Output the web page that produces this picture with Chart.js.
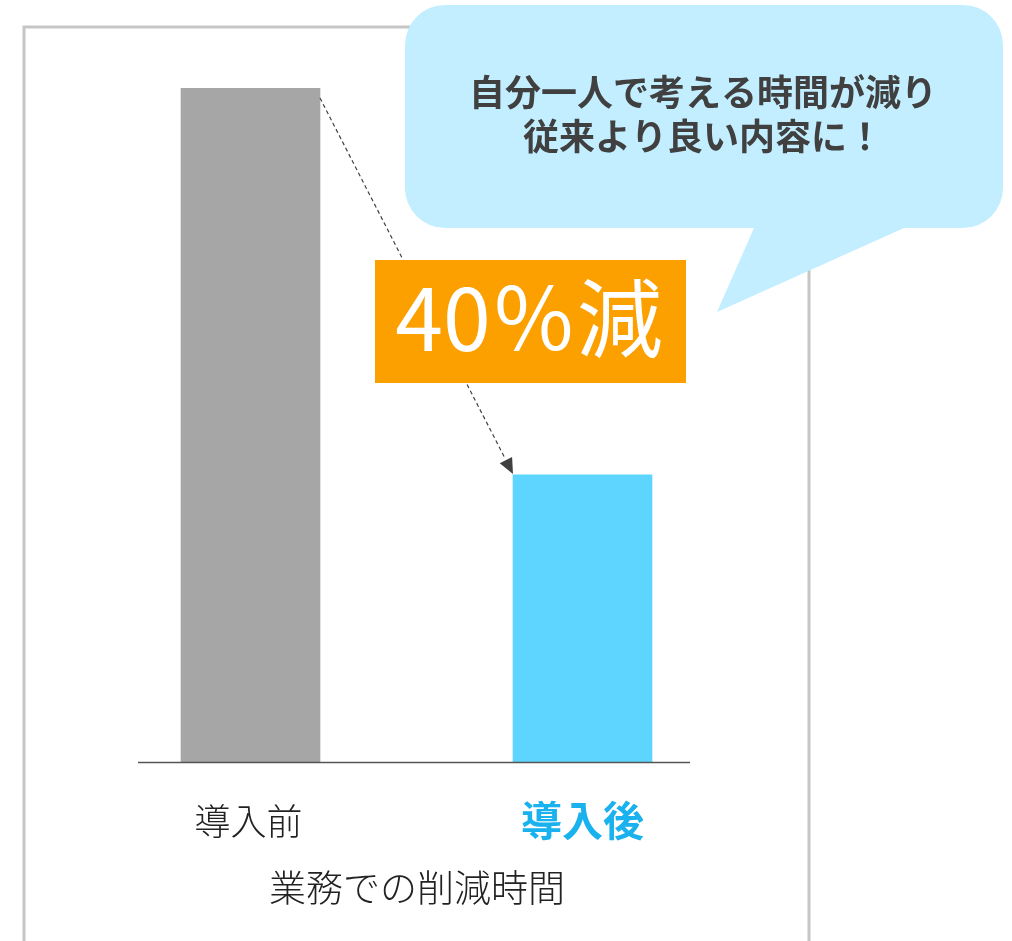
<!DOCTYPE html>
<html>
<head>
<meta charset="utf-8">
<script src="https://cdn.jsdelivr.net/npm/chart.js@4.4.0/dist/chart.umd.min.js"></script>
<style>
  html, body { margin: 0; padding: 0; background: #fff; }
  #wrap { width: 1012px; height: 941px; }
</style>
</head>
<body>
<div id="wrap"><canvas id="reduceChart" width="1012" height="941"></canvas></div>
<script>
  const categories = ['導入前', '導入後'];
  const hours = [100, 42.6]; // relative time, before = 100
  const axisTitle = '業務での削減時間';
  const badgeText = '40％減';
  const bubbleLines = ['自分一人で考える時間が減り', '従来より良い内容に！'];

  const JP = '"Noto Sans CJK JP", "Noto Sans", sans-serif';

  // frame behind the chart
  const framePlugin = {
    id: 'frame',
    beforeDraw(chart) {
      const ctx = chart.ctx;
      ctx.save();
      ctx.strokeStyle = '#c6c6c6';
      ctx.lineWidth = 3;
      ctx.beginPath();
      ctx.moveTo(24, 960);
      ctx.lineTo(24, 27);
      ctx.lineTo(809, 27);
      ctx.lineTo(809, 960);
      ctx.stroke();
      ctx.restore();
    }
  };

  const extrasPlugin = {
    id: 'extras',
    afterDraw(chart) {
      const ctx = chart.ctx;
      const x = chart.scales.x, y = chart.scales.y;
      const y0 = y.getPixelForValue(0);
      ctx.save();

      // baseline
      ctx.strokeStyle = '#555';
      ctx.lineWidth = 1.5;
      ctx.beginPath();
      ctx.moveTo(138, y0 + 0.5);
      ctx.lineTo(690, y0 + 0.5);
      ctx.stroke();

      // category labels
      ctx.textAlign = 'center';
      ctx.textBaseline = 'middle';
      ctx.fillStyle = '#222';
      ctx.font = '300 36px ' + JP;
      ctx.fillText(categories[0], x.getPixelForTick(0) - 2, y0 + 59);
      ctx.fillStyle = '#19b1ee';
      ctx.font = 'bold 41px ' + JP;
      ctx.fillText(categories[1], x.getPixelForTick(1), y0 + 58);

      ctx.fillStyle = '#222';
      ctx.font = '300 37px ' + JP;
      ctx.fillText(axisTitle, 417, y0 + 126);

      // dashed arrow from top of first bar to top of second
      const meta = chart.getDatasetMeta(0);
      const b0 = meta.data[0], b1 = meta.data[1];
      const sx = b0.x + b0.width / 2, sy = b0.y + 10;
      const ex = b1.x - b1.width / 2, ey = b1.y - 1;
      const ang = Math.atan2(ey - sy, ex - sx);
      const headLen = 17;
      ctx.strokeStyle = '#404040';
      ctx.lineWidth = 1.2;
      ctx.setLineDash([4, 3]);
      ctx.beginPath();
      ctx.moveTo(sx, sy);
      ctx.lineTo(ex - headLen * Math.cos(ang), ey - headLen * Math.sin(ang));
      ctx.stroke();
      ctx.setLineDash([]);
      ctx.fillStyle = '#404040';
      ctx.beginPath();
      ctx.moveTo(ex, ey);
      ctx.lineTo(ex - headLen * Math.cos(ang - 0.42), ey - headLen * Math.sin(ang - 0.42));
      ctx.lineTo(ex - headLen * Math.cos(ang + 0.42), ey - headLen * Math.sin(ang + 0.42));
      ctx.closePath();
      ctx.fill();

      // orange badge
      ctx.fillStyle = '#fca000';
      ctx.fillRect(375, 260, 311, 123);
      ctx.fillStyle = '#fff';
      ctx.font = '400 86px ' + JP;
      ctx.fillText(badgeText, 529, 318);

      // speech bubble
      const bx = 405, by = 5, bw = 598, bh = 223, r = 40;
      ctx.fillStyle = '#c2eeff';
      ctx.beginPath();
      ctx.moveTo(bx + r, by);
      ctx.lineTo(bx + bw - r, by);
      ctx.arcTo(bx + bw, by, bx + bw, by + r, r);
      ctx.lineTo(bx + bw, by + bh - r);
      ctx.arcTo(bx + bw, by + bh, bx + bw - r, by + bh, r);
      ctx.lineTo(904, by + bh);
      ctx.lineTo(717, 312);
      ctx.lineTo(754, by + bh);
      ctx.lineTo(bx + r, by + bh);
      ctx.arcTo(bx, by + bh, bx, by + bh - r, r);
      ctx.lineTo(bx, by + r);
      ctx.arcTo(bx, by, bx + r, by, r);
      ctx.closePath();
      ctx.fill();

      ctx.fillStyle = '#404040';
      ctx.font = 'bold 36px ' + JP;
      ctx.fillText(bubbleLines[0], 703, 92);
      ctx.fillText(bubbleLines[1], 703, 136);

      ctx.restore();
    }
  };

  const config = {
    type: 'bar',
    data: {
      labels: categories,
      datasets: [{
        data: hours,
        backgroundColor: ['#a6a6a6', '#5dd5ff'],
        borderWidth: 0,
        barThickness: 139
      }]
    },
    options: {
      responsive: false,
      animation: false,
      layout: {
        padding: { left: 84.5, right: 263.5, top: 88, bottom: 179 }
      },
      scales: {
        x: { display: false },
        y: { display: false, min: 0, max: 100 }
      },
      plugins: {
        legend: { display: false },
        tooltip: { enabled: false }
      }
    },
    plugins: [framePlugin, extrasPlugin]
  };

  window.onload = function() {
    const ctx = document.getElementById('reduceChart').getContext('2d');
    new Chart(ctx, config);
  };
</script>
</body>
</html>
